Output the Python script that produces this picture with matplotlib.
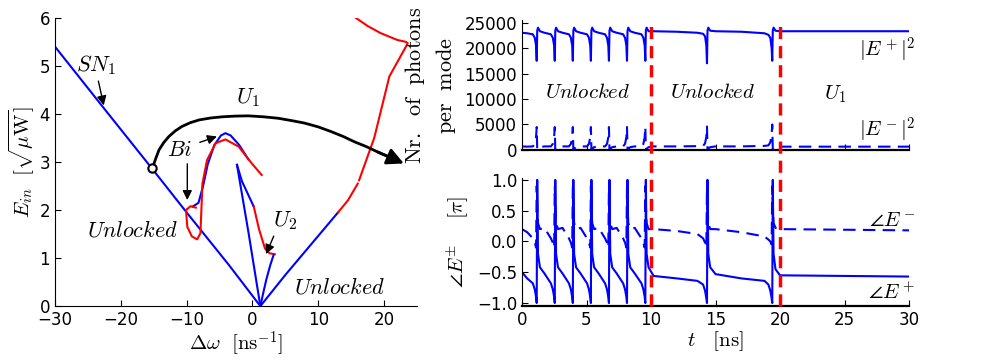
import matplotlib
matplotlib.use('Agg')
import matplotlib.pyplot as plt
from matplotlib.lines import Line2D
from matplotlib import transforms

plt.rcParams['mathtext.fontset'] = 'cm'
plt.rcParams['font.family'] = 'DejaVu Sans'
plt.rcParams['xtick.direction'] = 'in'
plt.rcParams['ytick.direction'] = 'in'

# ---------------- left panel: bifurcation diagram ----------------
sn_x = [-30, -22, -15.3, -10, -3.6, 1.2]
sn_y = [5.4, 4.02, 2.87, 1.95, 0.86, 0.0]
right_arm_x = [1.2, 5, 9, 13]
right_arm_y = [0.0, 0.65, 1.3, 1.95]
red_low_x = [13, 14.5, 16.0]
red_low_y = [1.95, 2.2, 2.55]
red_high_x = [16.2, 18.5, 20.8, 23.6, 23.3, 22.0, 19.5, 17.5, 15.7]
red_high_y = [2.62, 3.5, 4.78, 5.47, 5.5, 5.54, 5.68, 5.83, 6.0]
bi_blue_x = [-9.1, -8.2, -7.5, -6.8, -5.8, -4.8, -4.1, -3.3, -2.0, -0.6]
bi_blue_y = [2.07, 2.15, 2.5, 2.95, 3.35, 3.55, 3.6, 3.55, 3.35, 3.05]
bi_red_x = [-8.6, -9.4, -10.1, -9.9, -9.2, -8.4, -7.9, -7.6, -6.9, -5.6, -4.1, -2.1, -0.1, 1.4]
bi_red_y = [2.05, 2.08, 2.0, 1.65, 1.45, 1.39, 1.52, 2.55, 3.04, 3.39, 3.47, 3.32, 2.97, 2.73]
v_left_x = [-2.35, -0.6, 1.2]
v_left_y = [2.94, 1.53, 0.0]
v_mid_x = [-2.35, -1.6, 0.2]
v_mid_y = [2.94, 2.6, 2.07]
u2_red_x = [0.2, 1.0, 1.9, 2.6, 3.4]
u2_red_y = [2.07, 1.6, 1.2, 1.1, 1.08]
u2_blue_x = [3.2, 2.7, 2.1, 1.6, 1.2]
u2_blue_y = [1.06, 0.85, 0.55, 0.25, 0.0]
path_x = [-15.2, -14.7, -14.2, -13.5, -12.7, -11.7, -10.7, -9.4, -8.1, -6.4,
          -4.6, -2.6, -0.6, 1.7, 3.9, 6.0, 7.9, 10.0, 12.0, 13.8, 15.5, 17.3, 19.0, 21.0, 23.0]
path_y = [2.87, 3.07, 3.25, 3.40, 3.53, 3.65, 3.74, 3.82, 3.875, 3.915,
          3.94, 3.955, 3.96, 3.94, 3.91, 3.86, 3.81, 3.73, 3.63, 3.53, 3.42, 3.32, 3.21, 3.09, 2.97]

# ---------------- right panels: time traces ----------------
t = [0.0, 0.4,
     0.84, 0.99, 1.09, 1.14, 1.18, 1.24, 1.39, 1.74,
     2.24, 2.39, 2.49, 2.54, 2.58, 2.64, 2.79, 3.14,
     3.64, 3.79, 3.89, 3.94, 3.98, 4.04, 4.19, 4.54,
     5.04, 5.19, 5.29, 5.34, 5.38, 5.44, 5.59, 5.94,
     6.44, 6.59, 6.69, 6.74, 6.78, 6.84, 6.99, 7.34,
     7.84, 7.99, 8.09, 8.14, 8.18, 8.24, 8.39, 8.74,
     9.26, 9.41, 9.51, 9.56, 9.60, 9.66, 9.81, 10.2,
     12.0, 13.6,
     14.04, 14.19, 14.29, 14.34, 14.38, 14.44, 14.59, 15.0,
     17.0, 18.8,
     19.1, 19.25, 19.35, 19.4, 19.44, 19.5, 19.65, 20.0,
     30.0]
e_plus = [23000, 22900,
          22700, 22000, 20500, 17500, 23400, 24000, 23300, 23000,
          22700, 22000, 20500, 17500, 23400, 24000, 23300, 23000,
          22700, 22000, 20500, 17500, 23400, 24000, 23300, 23000,
          22700, 22000, 20500, 17500, 23400, 24000, 23300, 23000,
          22700, 22000, 20500, 17500, 23400, 24000, 23300, 23000,
          22700, 22000, 20500, 17500, 23400, 24000, 23300, 23000,
          22700, 22000, 20500, 17500, 23400, 24000, 23300, 23300,
          23200, 23000,
          22800, 22300, 20500, 17000, 23400, 24000, 23400, 23300,
          23200, 22900,
          22600, 22000, 20000, 17500, 23400, 24000, 23400, 23300,
          23300]
e_minus = [700, 650,
           700, 1200, 2500, 4500, 100, 250, 550, 700,
           700, 1200, 2500, 4500, 100, 250, 550, 700,
           700, 1200, 2500, 4500, 100, 250, 550, 700,
           700, 1200, 2500, 4500, 100, 250, 550, 700,
           700, 1200, 2500, 4500, 100, 250, 550, 700,
           700, 1200, 2500, 4500, 100, 250, 550, 700,
           700, 1200, 2500, 4500, 100, 250, 550, 700,
           700, 750,
           800, 1300, 2600, 4600, 100, 250, 550, 700,
           700, 800,
           900, 1500, 3000, 5000, 100, 250, 550, 650,
           650]
ph_plus = [-0.5, -0.6,
           -0.68, -0.78, -0.9, -1.0, 1.0, -0.2, -0.42, -0.52,
           -0.68, -0.78, -0.9, -1.0, 1.0, -0.2, -0.42, -0.52,
           -0.68, -0.78, -0.9, -1.0, 1.0, -0.2, -0.42, -0.52,
           -0.68, -0.78, -0.9, -1.0, 1.0, -0.2, -0.42, -0.52,
           -0.68, -0.78, -0.9, -1.0, 1.0, -0.2, -0.42, -0.52,
           -0.68, -0.78, -0.9, -1.0, 1.0, -0.2, -0.42, -0.52,
           -0.68, -0.78, -0.9, -1.0, 1.0, -0.2, -0.42, -0.56,
           -0.6, -0.64,
           -0.7, -0.8, -0.92, -1.0, 1.0, -0.2, -0.42, -0.53,
           -0.6, -0.64,
           -0.7, -0.8, -0.92, -1.0, 1.0, -0.2, -0.45, -0.55,
           -0.57]
ph_minus = [0.2, 0.15,
            0.05, -0.02, -0.1, 0.9, 0.6, 0.3, 0.2, 0.22,
            0.05, -0.02, -0.1, 0.9, 0.6, 0.3, 0.2, 0.22,
            0.05, -0.02, -0.1, 0.9, 0.6, 0.3, 0.2, 0.22,
            0.05, -0.02, -0.1, 0.9, 0.6, 0.3, 0.2, 0.22,
            0.05, -0.02, -0.1, 0.9, 0.6, 0.3, 0.2, 0.22,
            0.05, -0.02, -0.1, 0.9, 0.6, 0.3, 0.2, 0.22,
            0.05, -0.02, -0.1, 0.9, 0.6, 0.3, 0.2, 0.2,
            0.17, 0.12,
            0.05, -0.02, -0.1, 0.9, 0.6, 0.3, 0.2, 0.2,
            0.15, 0.08,
            0.03, 0.0, -0.05, 0.9, 0.6, 0.3, 0.22, 0.2,
            0.18]
t_switch = [10, 20]

BLUE = (0, 0, 1)
RED = (1, 0, 0)
LW = 1.5

fig = plt.figure(figsize=(10, 3.64), dpi=100)
ax = fig.add_axes([0.055, 0.159, 0.362, 0.792])
ax_top = fig.add_axes([0.522, 0.588, 0.387, 0.357])
ax_bot = fig.add_axes([0.522, 0.159, 0.387, 0.352])

# left panel curves
ax.plot(sn_x, sn_y, color=BLUE, lw=LW)
ax.plot(right_arm_x, right_arm_y, color=BLUE, lw=LW)
ax.plot(red_low_x, red_low_y, color=RED, lw=LW)
ax.plot(red_high_x, red_high_y, color=RED, lw=LW)
ax.plot(bi_blue_x, bi_blue_y, color=BLUE, lw=LW)
ax.plot(bi_red_x, bi_red_y, color=RED, lw=LW)
ax.plot(v_left_x, v_left_y, color=BLUE, lw=LW)
ax.plot(v_mid_x, v_mid_y, color=BLUE, lw=LW)
ax.plot(u2_red_x, u2_red_y, color=RED, lw=LW)
ax.plot(u2_blue_x, u2_blue_y, color=BLUE, lw=LW)
ax.plot(path_x[:-1], path_y[:-1], color='black', lw=2, solid_capstyle='round')
ax.annotate('', xy=(path_x[-1], path_y[-1]), xytext=(path_x[-3], path_y[-3]),
            arrowprops=dict(arrowstyle='-|>,head_length=0.5,head_width=0.25',
                            color='black', lw=2, mutation_scale=20, shrinkA=0, shrinkB=0))
ax.plot(path_x[0], path_y[0], 'o', mfc='white', mec='black', mew=1.5, ms=6)

arrow = dict(arrowstyle='-|>', color='black', lw=1, mutation_scale=14)
FS = 16
ax.text(-23.7, 5.02, r'$SN_1$', fontsize=FS, ha='center', va='center')
ax.annotate('', xy=(-22.5, 4.12), xytext=(-23.5, 4.74), arrowprops=arrow)
ax.text(-0.7, 4.33, r'$U_1$', fontsize=FS, ha='center', va='center')
ax.text(-11.1, 3.25, r'$Bi$', fontsize=FS, ha='center', va='center')
ax.annotate('', xy=(-9.9, 2.15), xytext=(-9.9, 3.02), arrowprops=arrow)
ax.annotate('', xy=(-5.0, 3.55), xytext=(-8.4, 3.39), arrowprops=arrow)
ax.text(-18.2, 1.58, r'$Unlocked$', fontsize=FS, ha='center', va='center')
ax.text(13.2, 0.4, r'$Unlocked$', fontsize=FS, ha='center', va='center')
ax.text(4.9, 1.79, r'$U_2$', fontsize=FS, ha='center', va='center')
ax.annotate('', xy=(1.9, 1.03), xytext=(3.4, 1.51), arrowprops=arrow)

ax.set_xlim(-30, 25)
ax.set_ylim(0, 6)
ax.set_xticks([-30, -20, -10, 0, 10, 20])
ax.set_yticks([0, 1, 2, 3, 4, 5, 6])
ax.set_xlabel(r'$\Delta\omega\ \ [\mathrm{ns}^{-1}]$', fontsize=15, labelpad=0)
ax.set_ylabel(r'$E_{in}\ \ [\sqrt{\mu\mathrm{W}}]$', fontsize=15, labelpad=2)

# right top: photon numbers
ax_top.plot(t, e_plus, color=BLUE, lw=LW)
ax_top.plot(t, e_minus, color=BLUE, lw=LW, dashes=(6, 3.5))
ax_top.set_xlim(0, 30)
ax_top.set_ylim(0, 25500)
ax_top.set_yticks([0, 5000, 10000, 15000, 20000, 25000])
ax_top.set_xticks([0, 5, 10, 15, 20, 25, 30])
ax_top.set_xticklabels([])
ax_top.set_ylabel('$\\mathrm{Nr.\\ \\ of\\ \\ photons}$\n$\\mathrm{per\\ \\ mode}$',
                  fontsize=16, labelpad=5, linespacing=1.35)
ax_top.text(5.1, 11400, r'$Unlocked$', fontsize=15, ha='center', va='center')
ax_top.text(14.8, 11400, r'$Unlocked$', fontsize=15, ha='center', va='center')
ax_top.text(24.3, 11000, r'$U_1$', fontsize=15, ha='center', va='center')
ax_top.text(30.5, 19600, r'$|E^+|^2$', fontsize=15, ha='right', va='center')
ax_top.text(30.5, 3900, r'$|E^-|^2$', fontsize=15, ha='right', va='center')

# right bottom: phases
ax_bot.plot(t, ph_plus, color=BLUE, lw=LW)
ax_bot.plot(t, ph_minus, color=BLUE, lw=LW, dashes=(6, 3.5))
ax_bot.set_xlim(0, 30)
ax_bot.set_ylim(-1.05, 1.03)
ax_bot.set_yticks([-1.0, -0.5, 0.0, 0.5, 1.0])
ax_bot.set_yticklabels(['\u22121.0', '\u22120.5', '0.0', '0.5', '1.0'])
ax_bot.set_xticks([0, 5, 10, 15, 20, 25, 30])
ax_bot.set_xlabel(r'$t\ \ \ [\mathrm{ns}]$', fontsize=15, labelpad=0)
ax_bot.set_ylabel(r'$\angle E^{\pm}\ \ \ \ [\pi]$', fontsize=15, labelpad=4)
ax_bot.text(30.5, 0.35, r'$\angle E^-$', fontsize=15, ha='right', va='center')
ax_bot.text(30.5, -0.83, r'$\angle E^+$', fontsize=15, ha='right', va='center')

for a in (ax, ax_top, ax_bot):
    a.spines['top'].set_visible(False)
    a.spines['right'].set_visible(False)
    a.tick_params(labelsize=12, length=4, width=0.8)
ax_top.spines['bottom'].set_linewidth(1.6)
ax_bot.spines['bottom'].set_linewidth(1.6)

# red dashed switching lines across both right panels
trans = transforms.blended_transform_factory(ax_top.transData, fig.transFigure)
for ts in t_switch:
    fig.add_artist(Line2D([ts, ts], [0.159, 0.945], transform=trans, color=RED,
                          lw=2.5, dashes=(3.5, 2)))

fig.savefig('out.png', dpi=100)
